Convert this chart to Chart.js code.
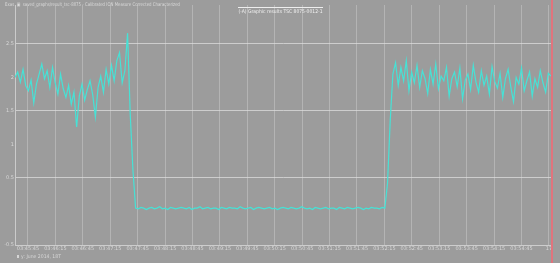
<!DOCTYPE html>
<html>
<head>
<meta charset="utf-8">
<script src="https://cdn.jsdelivr.net/npm/chart.js@4"></script>
<style>
  html, body { margin: 0; padding: 0; background: #9c9c9c; }
  #wrap { width: 560px; height: 263px; }
</style>
</head>
<body>
<div id="wrap"><canvas id="chart"></canvas></div>
<script>
// Trace values, split into the visible phases
const preDropValues = [
  2.00, 2.08, 1.93, 2.12, 1.88, 1.80, 1.96, 1.62, 1.90, 2.05,
  2.20, 1.98, 2.10, 1.85, 2.15, 1.92, 1.75, 2.05, 1.83, 1.70,
  1.88, 1.60, 1.78, 1.26, 1.72, 1.90, 1.66, 1.82, 1.95, 1.74,
  1.41, 1.85, 2.02, 1.78, 2.12, 1.90, 2.18, 1.95, 2.25, 2.37,
  1.92, 2.10
]
const dropValues = [2.66, 1.45, 0.62]
const plateauValues = [
  0.05, 0.04, 0.06, 0.05, 0.03, 0.05, 0.06, 0.04, 0.05, 0.07,
  0.04, 0.05, 0.03, 0.06, 0.05, 0.04, 0.05, 0.06, 0.05, 0.04,
  0.06, 0.03, 0.05, 0.05, 0.07, 0.04, 0.05, 0.06, 0.04, 0.05,
  0.05, 0.03, 0.06, 0.05, 0.04, 0.06, 0.05, 0.05, 0.04, 0.07,
  0.05, 0.04, 0.05, 0.06, 0.03, 0.05, 0.06, 0.05, 0.04, 0.05,
  0.06, 0.04, 0.05, 0.03, 0.05, 0.06, 0.05, 0.04, 0.06, 0.05,
  0.04, 0.05, 0.07, 0.05, 0.04, 0.05, 0.03, 0.06, 0.05, 0.04,
  0.05, 0.06, 0.04, 0.05, 0.05, 0.03, 0.06, 0.05, 0.04, 0.06,
  0.05, 0.04, 0.05, 0.06, 0.05, 0.03, 0.05, 0.04, 0.06, 0.05,
  0.05, 0.04, 0.06, 0.05
]
const riseValues = [0.42, 1.35]
const recoveryValues = [
  2.05, 2.22, 1.88, 2.15, 1.95, 2.25, 1.80, 2.08, 1.92, 2.18,
  1.85, 2.10, 1.98, 1.76, 2.12, 1.90, 2.20, 1.83, 2.02, 1.95,
  2.15, 1.72, 1.98, 2.08, 1.86, 2.14, 1.68, 1.96, 2.05, 1.82,
  2.18, 1.93, 1.78, 2.10, 1.88, 2.02, 1.75, 2.16, 1.94, 1.84,
  2.06, 1.70, 1.98, 2.12, 1.86, 1.64, 2.00, 1.90, 2.14, 1.80,
  1.95, 2.08, 1.72, 1.98, 1.85, 2.10, 1.92, 1.78, 2.06, 2.02
]

const timeLabels = [
  '03:45:45', '03:46:15', '03:46:45', '03:47:15', '03:47:45',
  '03:48:15', '03:48:45', '03:49:15', '03:49:45', '03:50:15',
  '03:50:45', '03:51:15', '03:51:45', '03:52:15', '03:52:45',
  '03:53:15', '03:53:45', '03:54:15', '03:54:45', '17'
]
const yLabels = { '-0.5': '-0.5', '0.5': '0.5', '1': '1', '1.5': '1.5', '2': '2', '2.5': '2.5' }

const headerText = 'Exas  \u25A3  saved_graphs/result_tsc-8075 - Calibrated ION Measure Corrected Characterized'
const titleText = '(-A) Graphic results TSC 8075-0012-1'
const legendText = 'y: June 2014, 18T'

const allValues = [].concat(preDropValues, dropValues, plateauValues, riseValues, recoveryValues)
const points = allValues.map((v, i) => ({ x: i, y: v }))

const firstTick = 4.85
const tickStep = 10.23
const fontSmall = { family: 'DejaVu Sans', size: 5 }

const decorations = {
  id: 'decorations',
  beforeDraw(chart) {
    const ctx = chart.ctx
    ctx.save()
    ctx.fillStyle = '#9c9c9c'
    ctx.fillRect(0, 0, chart.width, chart.height)
    ctx.restore()
  },
  afterDraw(chart) {
    const ctx = chart.ctx
    const area = chart.chartArea
    ctx.save()
    // header path text
    ctx.font = '5px "DejaVu Sans"'
    ctx.fillStyle = '#dadada'
    ctx.textBaseline = 'middle'
    ctx.fillText(headerText, 5, 4.5, 175)
    // title with top rule
    ctx.strokeStyle = '#eeeeee'
    ctx.lineWidth = 1
    ctx.beginPath()
    ctx.moveTo(238, 7.5)
    ctx.lineTo(323, 7.5)
    ctx.stroke()
    ctx.fillStyle = '#f0f0f0'
    ctx.textAlign = 'center'
    ctx.fillText(titleText, 280.5, 11.5, 84)
    // legend
    ctx.textAlign = 'left'
    ctx.fillStyle = '#d6d6d6'
    ctx.fillText(legendText, 21, 256.5, 40)
    ctx.fillRect(17, 255, 2, 3)
    // red cursor line
    ctx.strokeStyle = 'rgba(232, 112, 122, 0.9)'
    ctx.lineWidth = 2
    ctx.beginPath()
    ctx.moveTo(area.right + 1, 0)
    ctx.lineTo(area.right + 1, chart.height)
    ctx.stroke()
    ctx.restore()
  }
}

new Chart(document.getElementById('chart'), {
  type: 'line',
  data: {
    datasets: [{
      data: points,
      borderColor: 'rgb(70, 226, 214)',
      borderWidth: 1.2,
      pointRadius: 0,
      tension: 0,
      fill: false
    }]
  },
  options: {
    responsive: true,
    maintainAspectRatio: false,
    animation: false,
    layout: { padding: { top: 5, right: 9, bottom: 8, left: 0 } },
    plugins: {
      legend: { display: false },
      tooltip: { enabled: false }
    },
    scales: {
      x: {
        type: 'linear',
        min: 0,
        max: allValues.length - 1,
        afterBuildTicks(scale) {
          scale.ticks = timeLabels.map((t, i) => ({ value: firstTick + i * tickStep }))
        },
        afterFit(scale) { scale.height = 10 },
        ticks: {
          autoSkip: false,
          maxRotation: 0,
          padding: 1,
          color: '#d8d8d8',
          font: fontSmall,
          callback: (v, i) => timeLabels[i]
        },
        grid: { color: 'rgba(210, 210, 210, 0.45)', lineWidth: 1, drawTicks: false },
        border: { display: false }
      },
      y: {
        min: -0.5,
        max: 3.08,
        afterFit(scale) { scale.width = 15 },
        ticks: {
          stepSize: 0.5,
          includeBounds: false,
          padding: 1,
          color: '#d8d8d8',
          font: fontSmall,
          callback: (v) => yLabels[String(v)] || ''
        },
        grid: {
          drawTicks: false,
          lineWidth: 1,
          color: (c) => {
            const v = c.tick ? c.tick.value : 0
            return Math.abs(((v + 0.5) % 1)) < 1e-6 ? 'rgba(222, 222, 222, 0.75)' : 'rgba(0,0,0,0)'
          }
        },
        border: { display: true, color: 'rgba(215, 215, 215, 0.8)' }
      }
    }
  },
  plugins: [decorations]
})
</script>
</body>
</html>
